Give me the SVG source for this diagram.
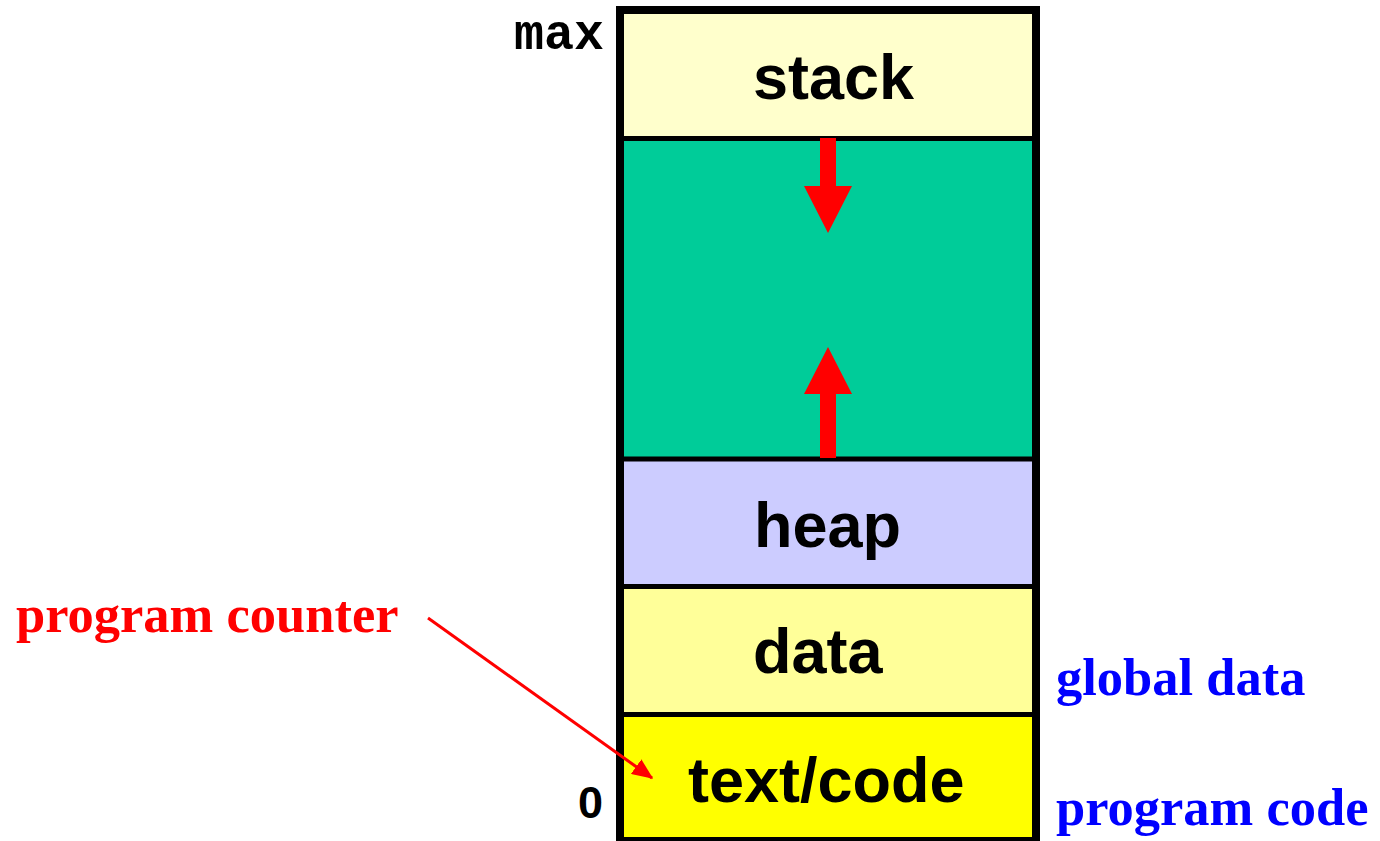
<svg xmlns="http://www.w3.org/2000/svg" width="1380" height="841" viewBox="0 0 1380 841">
  <style>
    .seg { stroke: none; }
    .div { stroke: #000; stroke-width: 5; fill: none; }
    .frame { fill: none; stroke: #000; stroke-width: 8; }
    .lbl { font-family: "Liberation Sans", Arial, sans-serif; font-weight: bold; font-size: 63px; fill: #000; }
    .addr { font-family: "Liberation Sans", Arial, sans-serif; font-weight: bold; font-size: 45px; fill: #000; }
    .mono { font-family: "Liberation Mono", "Courier New", monospace; font-weight: bold; font-size: 50px; fill: #000; }
    .note { font-family: "Liberation Serif", "Times New Roman", serif; font-weight: bold; font-size: 52.5px; }
    .grow { fill: #FF0000; }
  </style>
  <defs>
    <marker id="pc-head" markerWidth="7" markerHeight="6" refX="6.5" refY="3" orient="auto" markerUnits="strokeWidth">
      <path d="M0,0 L7,3 L0,6 Z" fill="#FF0000"/>
    </marker>
  </defs>
  <rect width="1380" height="841" fill="#FFFFFF"/>

  <!-- memory segments, top (max) to bottom (0) -->
  <g id="stack">
    <rect class="seg" x="620" y="10" width="416" height="128.5" fill="#FFFFCC"/>
    <text class="lbl" x="753" y="99">stack</text>
  </g>
  <g id="free">
    <rect class="seg" x="620" y="138.5" width="416" height="320.5" fill="#00CC99"/>
  </g>
  <g id="heap">
    <rect class="seg" x="620" y="459" width="416" height="127.5" fill="#CCCCFF"/>
    <text class="lbl" x="754" y="547">heap</text>
  </g>
  <g id="data">
    <rect class="seg" x="620" y="586.5" width="416" height="128" fill="#FFFF99"/>
    <text class="lbl" x="753" y="673">data</text>
  </g>
  <g id="text-code">
    <rect class="seg" x="620" y="714.5" width="416" height="127" fill="#FFFF00"/>
    <text class="lbl" x="688" y="802">text/code</text>
  </g>

  <!-- segment boundaries and outer frame -->
  <g id="frame">
    <line class="div" x1="620" y1="138.5" x2="1036" y2="138.5"/>
    <line class="div" x1="620" y1="459" x2="1036" y2="459"/>
    <line class="div" x1="620" y1="586.5" x2="1036" y2="586.5"/>
    <line class="div" x1="620" y1="714.5" x2="1036" y2="714.5"/>
    <rect class="frame" x="620" y="10" width="416" height="831"/>
  </g>

  <!-- address labels -->
  <g id="addr-max">
    <text class="mono" x="604" y="49" text-anchor="end">max</text>
  </g>
  <g id="addr-zero">
    <text class="addr" x="603" y="818" text-anchor="end">0</text>
  </g>

  <!-- side notes -->
  <g id="pc-label">
    <text class="note" x="16" y="632" fill="#FF0000">program counter</text>
  </g>
  <g id="global-data-label">
    <text class="note" x="1056" y="695" fill="#0000FF">global data</text>
  </g>
  <g id="program-code-label">
    <text class="note" x="1056" y="825" fill="#0000FF">program code</text>
  </g>

  <!-- connectors: growth arrows and program counter pointer -->
  <g id="connectors">
    <path class="grow" d="M820,138 L836,138 L836,186 L852,186 L828,233 L804,186 L820,186 Z"/>
    <path class="grow" d="M820,458 L836,458 L836,394 L852,394 L828,347 L804,394 L820,394 Z"/>
    <line x1="428" y1="618" x2="652" y2="778" stroke="#FF0000" stroke-width="3" marker-end="url(#pc-head)"/>
  </g>
</svg>
